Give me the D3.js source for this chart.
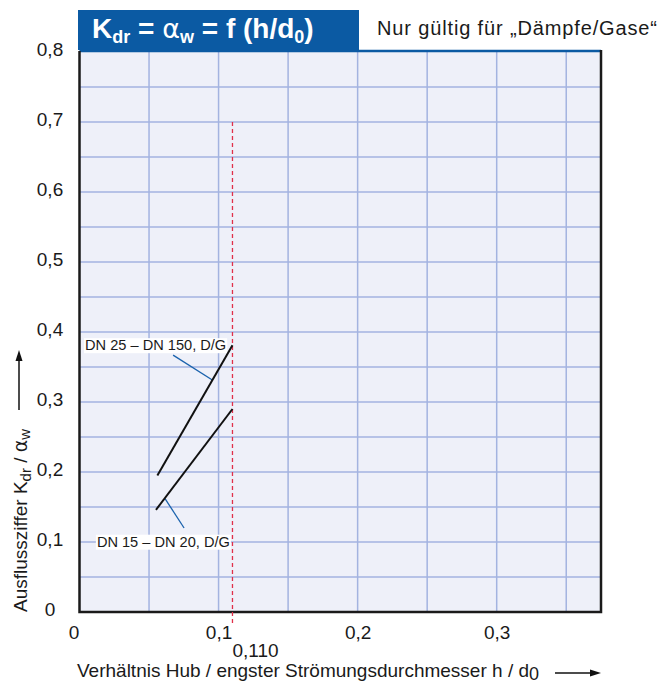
<!DOCTYPE html>
<html><head><meta charset="utf-8">
<script src="https://cdn.jsdelivr.net/npm/d3@7"></script>
<style>
body{margin:0;background:#fff;}
text{font-family:"Liberation Sans",Arial,sans-serif;}
</style></head>
<body><svg id="c" width="661" height="683"></svg>
<script>
// ---- data ----
const seriesNames = ["DN 25 – DN 150, D/G", "DN 15 – DN 20, D/G"];
const upperX = [0.056, 0.110];
const upperY = [0.195, 0.381];
const lowerX = [0.055, 0.110];
const lowerY = [0.146, 0.290];
const limitX = 0.110;
const limitLabel = "0,110";
const limitTop = 0.7;
const xTicks = [0, 0.1, 0.2, 0.3];
const yTicks = [0, 0.1, 0.2, 0.3, 0.4, 0.5, 0.6, 0.7, 0.8];
const gridStep = 0.05;
// label anchors (data units): text position, leader start, leader end
const upperLabel = {tx: 0.004, ty: 0.374, lx1: 0.0673, ly1: 0.367, lx2: 0.0958, ly2: 0.331};
const lowerLabel = {tx: 0.0125, ty: 0.0933, lx1: 0.0752, ly1: 0.120, lx2: 0.0615, ly2: 0.162};

const svg = d3.select("#c");
const L = 79.5, R = 601, T = 52, B = 612;
const x = d3.scaleLinear().domain([0, 0.375]).range([L, R]);
const y = d3.scaleLinear().domain([0, 0.8]).range([B, T]);
const fmt = d => d === 0 ? "0" : d3.format(".1f")(d).replace(".", ",");
const ink = "#1a1a1a";

// background
svg.append("rect").attr("x", L).attr("y", T).attr("width", R - L).attr("height", B - T).attr("fill", "#eef0f9");

// grid
const gx = d3.range(gridStep, 0.375, gridStep);
const gy = d3.range(gridStep, 0.8 - 1e-9, gridStep);
svg.append("g").selectAll("line").data(gx).join("line")
  .attr("x1", d => x(d)).attr("x2", d => x(d)).attr("y1", T).attr("y2", B)
  .attr("stroke", "#a3b3e0").attr("stroke-width", 1.5);
svg.append("g").selectAll("line").data(gy).join("line")
  .attr("x1", L).attr("x2", R).attr("y1", d => y(d)).attr("y2", d => y(d))
  .attr("stroke", "#a3b3e0").attr("stroke-width", 1.5);

// frame
svg.append("line").attr("x1", L).attr("x2", R).attr("y1", T - 1).attr("y2", T - 1).attr("stroke", "#0b5aa3").attr("stroke-width", 2.5);
svg.append("path").attr("d", `M${L},${T-1}V${B}H${R}V${T-2}`).attr("fill", "none").attr("stroke", ink).attr("stroke-width", 2.5);

// header
svg.append("rect").attr("x", 78).attr("y", 10).attr("width", 281).attr("height", 40).attr("fill", "#0b5aa3");
const ht = svg.append("text").attr("x", 92).attr("y", 38).attr("fill", "#fff").attr("font-weight", "bold").attr("font-size", 28);
ht.append("tspan").text("K");
ht.append("tspan").attr("font-size", 18).attr("dy", 5).text("dr");
ht.append("tspan").attr("dy", -5).text(" = ");
ht.append("tspan").attr("font-weight", "normal").attr("font-family", "DejaVu Sans").attr("font-size", 27).text("α");
ht.append("tspan").attr("font-size", 18).attr("dy", 5).text("w");
ht.append("tspan").attr("dy", -5).text(" = f (h/d");
ht.append("tspan").attr("font-size", 18).attr("dy", 5).text("0");
ht.append("tspan").attr("dy", -5).text(")");

svg.append("text").attr("x", 377).attr("y", 35).attr("font-size", 20).attr("fill", ink)
  .attr("textLength", 280).attr("lengthAdjust", "spacing")
  .text("Nur gültig für „Dämpfe/Gase“");

// axes
const yAxis = svg.append("g").attr("transform", `translate(${L},0)`)
  .call(d3.axisLeft(y).tickValues(yTicks).tickFormat(fmt).tickSize(0).tickPadding(0));
yAxis.select(".domain").remove();
yAxis.selectAll("text").attr("x", 50 - L).attr("dy", "0.2em").attr("text-anchor", "middle")
  .attr("font-size", 19).attr("fill", ink).attr("font-family", "Liberation Sans, Arial, sans-serif");

const xAxis = svg.append("g").attr("transform", `translate(0,${B})`)
  .call(d3.axisBottom(x).tickValues(xTicks).tickFormat(fmt).tickSize(0).tickPadding(0));
xAxis.select(".domain").remove();
xAxis.selectAll("text").attr("y", 27).attr("dy", 0).attr("font-size", 19).attr("fill", ink)
  .attr("font-family", "Liberation Sans, Arial, sans-serif")
  .attr("dx", d => d === 0 ? -6 : 0);

// limit line
svg.append("line").attr("x1", x(limitX)).attr("x2", x(limitX)).attr("y1", y(limitTop)).attr("y2", B + 14)
  .attr("stroke", "#e0304a").attr("stroke-width", 1.3).attr("stroke-dasharray", "4,3");
svg.append("text").attr("x", x(limitX)).attr("y", 657).attr("font-size", 19).attr("fill", ink).text(limitLabel);

// labels
[upperLabel, lowerLabel].forEach((lb, i) => {
  const g = svg.append("g");
  const t = g.append("text").attr("x", x(lb.tx)).attr("y", y(lb.ty)).attr("font-size", 14.6).attr("fill", ink).text(seriesNames[i]);
  const bb = t.node().getBBox();
  g.insert("rect", "text").attr("x", bb.x - 1).attr("y", bb.y + 1).attr("width", bb.width + 2).attr("height", bb.height - 1).attr("fill", "#fff");
  svg.append("line").attr("x1", x(lb.lx1)).attr("y1", y(lb.ly1)).attr("x2", x(lb.lx2)).attr("y2", y(lb.ly2))
    .attr("stroke", "#1a62ad").attr("stroke-width", 1.3);
});

// curves
const line = d3.line().x(d => x(d[0])).y(d => y(d[1]));
const curves = [d3.zip(upperX, upperY), d3.zip(lowerX, lowerY)];
svg.append("g").selectAll("path").data(curves).join("path")
  .attr("d", line).attr("fill", "none").attr("stroke", "#111").attr("stroke-width", 2);

// x title
const xt = svg.append("text").attr("x", 77).attr("y", 677).attr("font-size", 19).attr("fill", ink);
xt.append("tspan").text("Verhältnis Hub / engster Strömungsdurchmesser h / d");
xt.append("tspan").attr("dy", 3).attr("font-size", 18).text("0");
svg.append("line").attr("x1", 555).attr("x2", 592).attr("y1", 673).attr("y2", 673).attr("stroke", "#111").attr("stroke-width", 1.5);
svg.append("path").attr("d", "M601,673 L590,669.5 L590,676.5 Z").attr("fill", "#111");

// y title
const yt = svg.append("text").attr("transform", "translate(27,612) rotate(-90)").attr("font-size", 19).attr("fill", ink);
yt.append("tspan").text("Ausflussziffer K");
yt.append("tspan").attr("dy", 4).attr("font-size", 15).text("dr");
yt.append("tspan").attr("dy", -4).text(" / ");
yt.append("tspan").attr("font-family", "DejaVu Sans").text("α");
yt.append("tspan").attr("dy", 3).attr("font-size", 15).text("w");
svg.append("line").attr("x1", 19).attr("x2", 19).attr("y1", 410).attr("y2", 359).attr("stroke", "#111").attr("stroke-width", 1.5);
svg.append("path").attr("d", "M19,350 L15.5,361 L22.5,361 Z").attr("fill", "#111");
</script></body></html>
